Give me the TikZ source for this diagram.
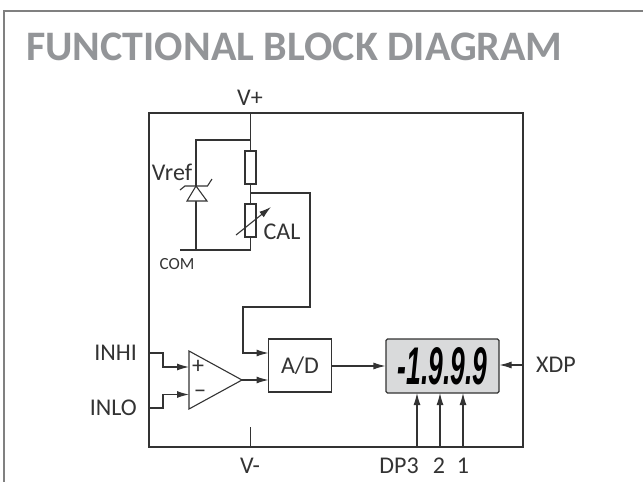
\documentclass[tikz,border=0pt]{standalone}
\usepackage{fontspec}
\setmainfont{Carlito}
\newfontfamily\lcdfont{Liberation Sans}
\usetikzlibrary{arrows.meta,calc}
\definecolor{titlegray}{HTML}{939598}
\definecolor{inkgray}{HTML}{333333}
\definecolor{lcdgray}{HTML}{D9DADB}
\tikzset{
  wire/.style={line width=1.1pt,draw=inkgray},
  sig/.style={wire,-{Latex[length=12pt,width=7pt]}},
  part/.style={wire,draw,rectangle,inner sep=0pt,fill=white},
  lab/.style={text=inkgray,font=\fontsize{24}{24}\selectfont,inner sep=0pt}
}
\begin{document}
\begin{tikzpicture}[x=1pt,y=-1pt]
        \useasboundingbox (0,0) rectangle (643,482);
        % Frame
        \draw[line width=1.4pt,draw=gray] (4,482) -- (4,11) -- (643,11);
        \node[anchor=base west,inner sep=0pt,text=titlegray,font=\fontsize{42}{42}\selectfont\bfseries] (title) at (26,60) {FUNCTIONAL BLOCK DIAGRAM};
        % Package
        \draw[wire] (149,113) rectangle (523,447);
        \coordinate (top) at (250.5,113);
        \coordinate (bot) at (250.5,447);
        \coordinate (left1) at (149,353);
        \coordinate (left2) at (149,408);
        \coordinate (right1) at (523,365);
        % Reference branch
        \coordinate (J1) at (250.5,140);
        \coordinate (J2) at (250.5,193);
        \coordinate (J3) at (250.5,250);
        \coordinate (Z) at (196,140);
        \coordinate (Zc) at (196,250);
        \coordinate (C) at (180,250);
        \node[part,minimum width=11pt,minimum height=33pt] (R1) at (250.5,167.5) {};
        \node[part,minimum width=11pt,minimum height=33pt] (R2) at (250.5,220.5) {};
        \draw[wire] (top) -- (R1.north);
        \draw[wire] (R1.south) -- (R2.north);
        \draw[wire] (R2.south) -- (J3) -- (C);
        \draw[wire] (J1) -- (Z) -- (Zc);
        \draw[wire,fill=white] (196,186) -- (187,201) -- (207,201) -- cycle;
        \draw[wire] (180,190) -- (185,186) -- (207.5,186) -- (212,179);
        \draw[wire,-{Latex[length=12pt,width=7pt]}] (236,235) -- (271,207);
        % Converter and display
        \node[part,minimum width=63pt,minimum height=53pt] (AD) at (300,365.5) {};
        \node[lab] (ADtext) at (AD) {A/D};
        \node[part,fill=lcdgray,rounded corners=1.5pt,minimum width=113pt,minimum height=54pt] (LCD) at (442.5,366) {};
        \node[inner sep=0pt,xscale=0.5,transform shape,text=black,font=\lcdfont\fontsize{53}{53}\selectfont\bfseries\itshape] (digits) at (442.5,366) {-1.9.9.9};
        % Amplifier
        \coordinate (AmpA) at (189,351);
        \coordinate (AmpB) at (189,409);
        \coordinate (AmpC) at (242,380);
        \draw[wire,fill=white] (AmpA) -- (AmpC) -- (AmpB) -- cycle;
        \node[lab] (plus) at (198,367) {+};
        \node[lab] (minus) at (200,394) {\textminus};
        % Signals
        \draw[sig] (left1) -- (163,353) -- (163,367) -- (189,367);
        \draw[sig] (left2) -- (163,408) -- (163,394.5) -- (189,394.5);
        \draw[sig] (AmpC) -- (268.5,380);
        \draw[sig] (J2) -- (310,193) -- (310,307) -- (243,307) -- (243,353) -- (268.5,353);
        \draw[sig] (AD.east |- LCD) -- (LCD.west);
        \draw[sig] (right1) -- (LCD.east |- right1);
        \draw[sig] (417,447) -- (417,393);
        \draw[sig] (440,447) -- (440,393);
        \draw[sig] (463,447) -- (463,393);
        \draw[wire] (bot) -- (250.5,427);
        % Labels
        \node[lab] (Vp) at (250,98) {V+};
        \node[lab] (Vref) at (172,172) {Vref};
        \node[lab] (CAL) at (282,232) {CAL};
        \node[lab,font=\fontsize{17}{17}\selectfont] (COM) at (177,264) {COM};
        \node[lab,anchor=east] (INHI) at (137,353) {INHI};
        \node[lab,anchor=east] (INLO) at (137,408) {INLO};
        \node[lab,anchor=west] (XDP) at (536,365) {XDP};
        \node[lab] (Vm) at (250,466) {V-};
        \node[lab] (DP3) at (399,466) {DP3};
        \node[lab] (DP2) at (439,466) {2};
        \node[lab] (DP1) at (463,466) {1};
    \end{tikzpicture}
\end{document}
